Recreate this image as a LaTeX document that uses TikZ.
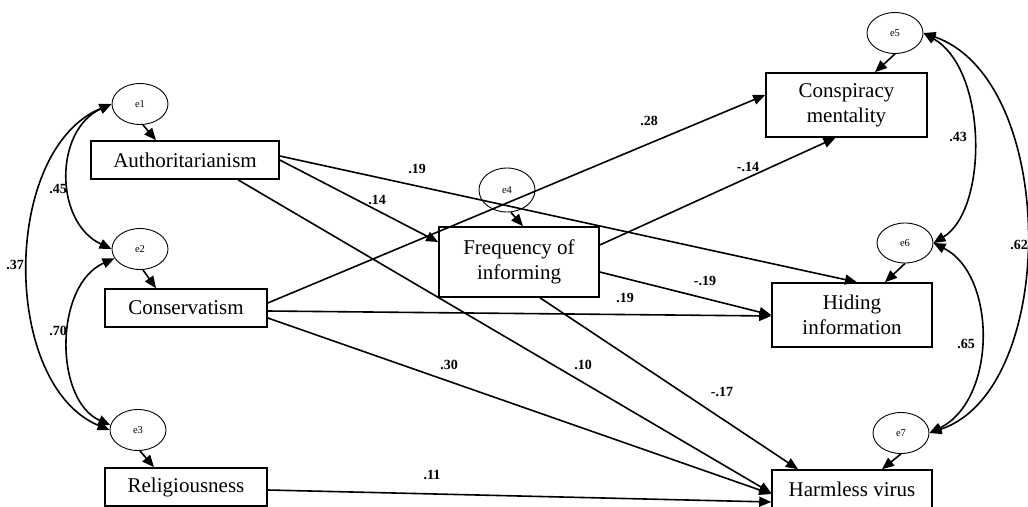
\documentclass[tikz,border=0pt]{standalone}
\usepackage{fontspec}
\setmainfont{Liberation Serif}
\usetikzlibrary{arrows.meta,shapes.geometric}
\begin{document}
\begin{tikzpicture}[x=1pt,y=-1pt,
  box/.style={draw,line width=1.6pt,inner sep=0pt,align=center,font=\fontsize{21}{25}\selectfont},
  err/.style={draw,ellipse,line width=0.9pt,inner sep=0pt,minimum width=56pt,minimum height=41pt,font=\fontsize{10.5}{12}\selectfont},
  coef/.style={font=\bfseries\fontsize{14}{16}\selectfont,inner sep=0pt},
  arr/.style={line width=1.6pt,-{Triangle[length=12pt,width=10pt]}},
  cov/.style={line width=1.6pt,{Triangle[length=12pt,width=10pt]}-{Triangle[length=12pt,width=10pt]}}]
\useasboundingbox (0,0) rectangle (1028,506);
\fill[white] (0,0) rectangle (1028,506);
% boxes
\node[box,minimum width=188pt,minimum height=38pt] (auth) at (185,160) {Authoritarianism};
\node[box,minimum width=162pt,minimum height=38pt] (cons) at (186,308) {Conservatism};
\node[box,minimum width=162pt,minimum height=38pt] (rel) at (186,487) {Religiousness};
\node[box,minimum width=160pt,minimum height=70pt] (freq) at (519,262) {Frequency of\\informing};
\node[box,minimum width=161pt,minimum height=64pt] (consp) at (846.5,105) {Conspiracy\\mentality};
\node[box,minimum width=160pt,minimum height=64pt] (hid) at (852,315) {Hiding\\information};
\node[box,minimum width=160pt,minimum height=38pt] (harm) at (852,489) {Harmless virus};
% errors
\node[err] (e1) at (140,104) {e1};
\node[err] (e2) at (140,249) {e2};
\node[err] (e3) at (138,430) {e3};
\node[err,minimum height=44pt] (e4) at (507,190) {e4};
\node[err] (e5) at (895,33) {e5};
\node[err,minimum height=40pt] (e6) at (905,243) {e6};
\node[err] (e7) at (901,433) {e7};
% error arrows
\draw[arr] ([xshift=3pt]e1.south) -- ([xshift=-29pt]auth.north);
\draw[arr] ([xshift=3pt]e2.south) -- ([xshift=-30pt]cons.north);
\draw[arr] ([xshift=2pt]e3.south) -- ([xshift=-32pt]rel.north);
\draw[arr] ([xshift=4pt]e4.south) -- ([xshift=4pt]freq.north);
\draw[arr] (e5.south) -- ([xshift=28.5pt]consp.north);
\draw[arr] (e6.south) -- ([xshift=33pt]hid.north);
\draw[arr] (e7.south) -- ([xshift=30pt]harm.north);
% paths
\draw[arr] (auth.east) -- ([yshift=20pt]freq.west);
\draw[arr] ([yshift=4pt]auth.east) -- ([xshift=5pt]hid.north);
\draw[arr] ([xshift=53pt]auth.south) -- ([yshift=-4pt]harm.west);
\draw[arr] ([yshift=5pt]cons.east) -- ([yshift=10pt]consp.west);
\draw[arr] ([yshift=-3pt]cons.east) -- ([yshift=-1pt]hid.west);
\draw[arr] ([yshift=-10pt]cons.east) -- ([yshift=-5pt]harm.west);
\draw[arr] ([yshift=-3pt]rel.east) -- ([yshift=-13pt]harm.west);
\draw[arr] ([yshift=17pt]freq.east) -- ([xshift=-11pt]consp.south);
\draw[arr] ([yshift=-10pt]freq.east) -- (hid.west);
\draw[arr] ([xshift=21pt]freq.south) -- ([xshift=-54pt]harm.north);
% covariances
\draw[cov] (e1.west) .. controls (54,130) and (54,222) .. (e2.west);
\draw[cov] (e1.west) .. controls (1,150) and (1,385) .. (e3.west);
\draw[cov] (e2.200) .. controls (54,285) and (54,400) .. (e3.170);
\draw[cov] (e5.east) .. controls (988,70) and (988,210) .. (e6.east);
\draw[cov] (e6.east) .. controls (997,275) and (997,400) .. (e7.east);
\draw[cov] (e5.east) .. controls (1059,80) and (1059,390) .. (e7.east);
% coefficients
\node[coef] (c45) at (58,189) {.45};
\node[coef] (c37) at (15,265) {.37};
\node[coef] (c70) at (58,331) {.70};
\node[coef] (c14) at (377,200) {.14};
\node[coef] (c19a) at (417,169) {.19};
\node[coef] (c28) at (649,121) {.28};
\node[coef] (cm14) at (748,167) {-.14};
\node[coef] (cm19) at (705,281) {-.19};
\node[coef] (c19b) at (625,298) {.19};
\node[coef] (c30) at (449,365) {.30};
\node[coef] (c10) at (583,365) {.10};
\node[coef] (cm17) at (722,392) {-.17};
\node[coef] (c11) at (432,475) {.11};
\node[coef] (c43) at (958,137) {.43};
\node[coef] (c62) at (1019,245) {.62};
\node[coef] (c65) at (966,344) {.65};
\end{tikzpicture}
\end{document}
